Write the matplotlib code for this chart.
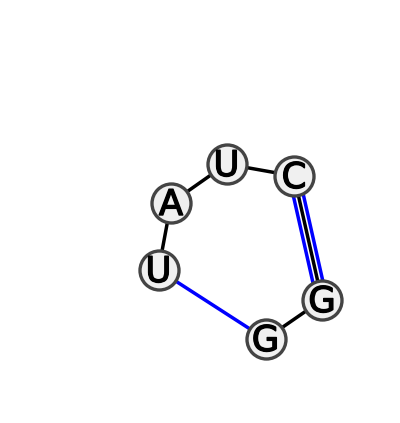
import matplotlib
matplotlib.use('Agg')
import matplotlib.pyplot as plt
import matplotlib.patheffects as pe
import numpy as np

# Nucleotides in chain order, positions
letters = ['U', 'A', 'U', 'C', 'G', 'G']
x_pos = [158.5, 171, 226.5, 294, 322, 265.5]
y_pos = [270, 203, 164, 176, 300, 339]

# Backbone links and base pair links (index into the lists above)
backbone = [(0, 1), (1, 2), (2, 3), (4, 5)]
single_pair = [(5, 0)]
double_pair = [(3, 4)]

fig = plt.figure(figsize=(4.0, 4.23), dpi=100)
ax = fig.add_axes([0, 0, 1, 1])
ax.set_xlim(0, 400)
ax.set_ylim(423, 0)
ax.axis('off')

# Black chain links
for a, b in backbone:
    ax.plot([x_pos[a], x_pos[b]], [y_pos[a], y_pos[b]], color='black', lw=2.5, zorder=1)

# Blue line for the U-G pair
for a, b in single_pair:
    ax.plot([x_pos[a], x_pos[b]], [y_pos[a], y_pos[b]], color='#0000ff', lw=2.5, zorder=1)

# C-G pair is blue, black, blue side by side
for a, b in double_pair:
    dx = x_pos[b] - x_pos[a]
    dy = y_pos[b] - y_pos[a]
    length = np.hypot(dx, dy)
    nx, ny = -dy / length, dx / length
    for offset, col in [(-5, '#0000ff'), (5, '#0000ff'), (0, 'black')]:
        ax.plot([x_pos[a] + nx * offset, x_pos[b] + nx * offset],
                [y_pos[a] + ny * offset, y_pos[b] + ny * offset],
                color=col, lw=2.5, zorder=1)

# Nodes
ax.scatter(x_pos, y_pos, s=(39 * 0.72) ** 2, facecolor='#f0f0f0', edgecolor='#444444',
           linewidth=2.4, zorder=2)

for letter, x, y in zip(letters, x_pos, y_pos):
    ax.text(x, y + 2, letter, ha='center', va='center', fontsize=25.5, color='black',
            family='DejaVu Sans', zorder=3,
            path_effects=[pe.withStroke(linewidth=1.0, foreground='black')])

fig.savefig('out.png', dpi=100)
